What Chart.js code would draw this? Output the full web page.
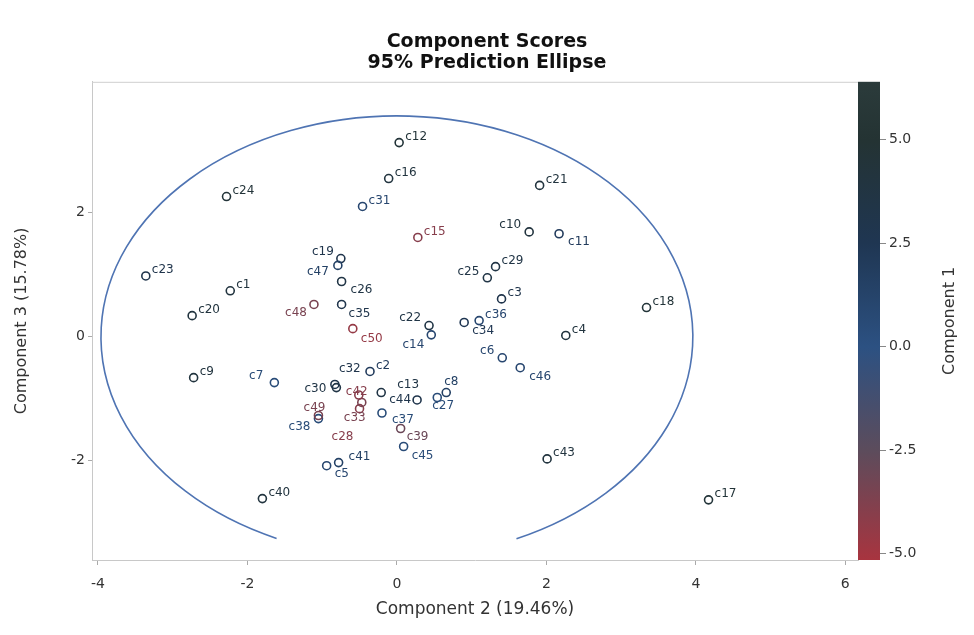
<!DOCTYPE html>
<html><head><meta charset="utf-8">
<script src="https://cdn.jsdelivr.net/npm/chart.js@4"></script>
<style>html,body{margin:0;padding:0;background:#fff;}#wrap{width:974px;height:635px;}</style>
</head><body>
<div id="wrap"><canvas id="c" width="974" height="635"></canvas></div>
<script>
// ---- data ----
const names = ['c1','c2','c3','c4','c5','c6','c7','c8','c9','c10','c11','c12','c13','c14','c15','c16','c17','c18','c19','c20','c21','c22','c23','c24','c25','c26','c27','c28','c29','c30','c31','c32','c33','c34','c35','c36','c37','c38','c39','c40','c41','c42','c43','c44','c45','c46','c47','c48','c49','c50'];
// Component 2 (x)
const comp2 = [-2.23,-0.36,1.40,2.26,-0.94,1.41,-1.64,0.66,-2.72,1.77,2.17,0.03,-0.21,0.46,0.28,-0.11,4.17,3.34,-0.75,-2.74,1.91,0.43,-3.36,-2.28,1.21,-0.74,0.54,-0.50,1.32,-0.81,-0.46,-0.83,-0.47,0.90,-0.74,1.10,-0.20,-1.05,0.05,-1.80,-0.78,-0.51,2.01,0.27,0.09,1.65,-0.79,-1.11,-1.05,-0.59];
// Component 3 (y)
const comp3 = [0.74,-0.56,0.61,0.02,-2.08,-0.34,-0.74,-0.90,-0.66,1.69,1.66,3.13,-0.90,0.03,1.60,2.55,-2.63,0.47,1.26,0.34,2.44,0.18,0.98,2.26,0.95,0.89,-0.98,-1.16,1.13,-0.82,2.10,-0.77,-1.06,0.23,0.52,0.26,-1.23,-1.32,-1.48,-2.61,-2.03,-0.94,-1.97,-1.02,-1.77,-0.50,1.15,0.52,-1.27,0.13];
// Component 1 (colour)
const comp1 = [4.0,2.0,3.0,4.0,1.0,1.0,0.5,1.5,4.0,4.0,2.0,4.5,3.5,1.0,-4.0,4.0,4.5,4.5,3.0,4.0,4.0,3.5,3.0,4.5,3.5,3.5,0.5,-4.0,3.5,3.5,1.0,3.0,-3.5,2.5,3.0,1.0,0.5,0.5,-3.0,4.0,1.5,-4.0,4.0,3.0,0.5,1.0,1.5,-3.5,-3.5,-4.5];
const xTicks = [-4,-2,0,2,4,6];
const yTicks = [-2,0,2];
const cbTicks = [-5,-2.5,0,2.5,5];
const xRange = [-4.08, 6.17];
const yRange = [-3.6, 4.11];
const cbRange = [-5.15, 6.4];
const ellipseCenter = [0, 0];
const ellipseRadii = [3.96, 3.56];
const ellipseGapX = [-1.61, 1.60];
const cmapStops = [[-5.15,'#a8343f'],[-2.5,'#5c4c5c'],[0,'#2c5182'],[2.5,'#1f3652'],[5,'#243333'],[6.4,'#2b3b3b']];

// ---- styles ----
const FONT = 'DejaVu Sans';
const labelPlace = {
  c10:[-8,-7,'right'], c11:[9,8,'left'], c19:[-7,-7,'right'], c47:[-9,6,'right'],
  c26:[9,8,'left'], c48:[-7,8,'right'], c35:[7,9,'left'], c50:[8,10,'left'],
  c22:[-8,-8,'right'], c14:[-7,10,'right'], c25:[-8,-6,'right'], c34:[8,8,'left'],
  c6:[-8,-7,'right'], c46:[9,9,'left'], c32:[4,-16,'left'], c30:[-10,1,'right'],
  c42:[-13,-3,'left'], c49:[7,-8,'right'], c38:[-8,8,'right'], c33:[-18,15,'left'],
  c28:[-28,28,'left'], c13:[16,-8,'left'], c44:[-6,0,'right'], c8:[-2,-11,'left'],
  c27:[-5,8,'left'], c37:[10,7,'left'], c39:[6,8,'left'], c45:[8,9,'left'],
  c41:[10,-6,'left'], c5:[8,8,'left'], c7:[-11,-7,'right']
};
function hex2rgb(h){return [parseInt(h.slice(1,3),16),parseInt(h.slice(3,5),16),parseInt(h.slice(5,7),16)];}
function colorFor(v){
  for(let i=0;i<cmapStops.length-1;i++){
    const [a,ca]=cmapStops[i],[b,cb]=cmapStops[i+1];
    if(v<=b||i===cmapStops.length-2){
      const t=Math.max(0,Math.min(1,(v-a)/(b-a)));
      const p=hex2rgb(ca),q=hex2rgb(cb);
      return 'rgb('+p.map((x,k)=>Math.round(x+(q[k]-x)*t)).join(',')+')';
    }
  }
}
const pointColors = comp1.map(colorFor);

const deco = {
  id:'deco',
  beforeDatasetsDraw(chart){
    const {ctx, chartArea:ca, scales:{x,y,cb}} = chart;
    ctx.save();
    // top frame line
    ctx.strokeStyle='#cfcfcf'; ctx.lineWidth=1;
    ctx.beginPath(); ctx.moveTo(ca.left, ca.top+0.5); ctx.lineTo(ca.right, ca.top+0.5); ctx.stroke();
    // ellipse
    const cx=x.getPixelForValue(ellipseCenter[0]), cy=y.getPixelForValue(ellipseCenter[1]);
    const rx=x.getPixelForValue(ellipseCenter[0]+ellipseRadii[0])-cx;
    const ry=cy-y.getPixelForValue(ellipseCenter[1]+ellipseRadii[1]);
    const aEnd=Math.acos((ellipseGapX[1]-ellipseCenter[0])/ellipseRadii[0]);
    const aStart=Math.acos((ellipseGapX[0]-ellipseCenter[0])/ellipseRadii[0]);
    ctx.beginPath(); ctx.ellipse(cx,cy,rx,ry,0,aStart,aEnd+2*Math.PI);
    ctx.strokeStyle='#4f74b3'; ctx.lineWidth=1.6; ctx.stroke();
    // colour bar
    const top=cb.getPixelForValue(cbRange[1]), bot=cb.getPixelForValue(cbRange[0]);
    const g=ctx.createLinearGradient(0,top,0,bot);
    cmapStops.forEach(([v,c])=>g.addColorStop(Math.max(0,Math.min(1,(cb.getPixelForValue(v)-top)/(bot-top))),c));
    ctx.fillStyle=g; ctx.fillRect(cb.left, top, 22, bot-top);
    ctx.restore();
  },
  afterDatasetsDraw(chart){
    const {ctx} = chart; const meta = chart.getDatasetMeta(0);
    ctx.save(); ctx.font = '12px "'+FONT+'"'; ctx.textBaseline='middle';
    meta.data.forEach((el,i)=>{
      const p = labelPlace[names[i]] || [6,-6,'left'];
      ctx.fillStyle = pointColors[i]; ctx.textAlign = p[2];
      ctx.fillText(names[i], el.x+p[0], el.y+p[1]);
    });
    ctx.restore();
  },
  afterDraw(chart){
    const {ctx, chartArea:ca} = chart;
    ctx.save(); ctx.translate(950, (ca.top+ca.bottom)/2); ctx.rotate(-Math.PI/2);
    ctx.font='16px "'+FONT+'"'; ctx.fillStyle='#333'; ctx.textAlign='center'; ctx.textBaseline='middle';
    ctx.fillText('Component 1',0,0); ctx.restore();
  }
};

new Chart(document.getElementById('c'), {
  type:'scatter',
  data:{datasets:[{
    data: names.map((n,i)=>({x:comp2[i], y:comp3[i]})),
    pointRadius:4, pointHoverRadius:4, pointBorderWidth:1.6,
    pointBackgroundColor:'rgba(0,0,0,0)', pointBorderColor:pointColors
  }]},
  options:{
    responsive:false, animation:false, devicePixelRatio:1,
    layout:{padding:0},
    events:[],
    plugins:{
      legend:{display:false}, tooltip:{enabled:false},
      title:{display:true, text:['Component Scores','95% Prediction Ellipse'], color:'#111',
        font:{family:FONT, size:19, weight:'bold', lineHeight:1.1}, padding:{top:32,bottom:8}}
    },
    scales:{
      x:{type:'linear', position:'bottom', min:xRange[0], max:xRange[1],
        afterBuildTicks:s=>{s.ticks=xTicks.map(v=>({value:v}));},
        afterFit:s=>{s.height=75;},
        grid:{drawOnChartArea:false, drawTicks:true, tickLength:5, color:'#aaa'},
        border:{display:true, color:'#c8c8c8'},
        ticks:{padding:11, color:'#333', font:{family:FONT, size:14}},
        title:{display:true, text:'Component 2 (19.46%)', color:'#333', font:{family:FONT, size:17}, padding:{top:0,bottom:15}}
      },
      y:{type:'linear', position:'left', min:yRange[0], max:yRange[1],
        afterBuildTicks:s=>{s.ticks=yTicks.map(v=>({value:v}));},
        afterFit:s=>{s.width=92;},
        grid:{drawOnChartArea:false, drawTicks:true, tickLength:4, color:'#aaa'},
        border:{display:true, color:'#c8c8c8'},
        ticks:{padding:3, color:'#333', font:{family:FONT, size:14}},
        title:{display:true, text:'Component 3 (15.78%)', color:'#333', font:{family:FONT, size:16}, padding:{top:12,bottom:0}}
      },
      cb:{type:'linear', position:'right', min:cbRange[0], max:cbRange[1],
        afterBuildTicks:s=>{s.ticks=cbTicks.map(v=>({value:v}));},
        afterFit:s=>{s.width=116;},
        grid:{drawOnChartArea:false, drawTicks:true, tickLength:28, color:'#888'},
        border:{display:false},
        ticks:{padding:3, color:'#333', font:{family:FONT, size:14}, callback:v=>v.toFixed(1)}
      }
    }
  },
  plugins:[deco]
});
</script>
</body></html>
